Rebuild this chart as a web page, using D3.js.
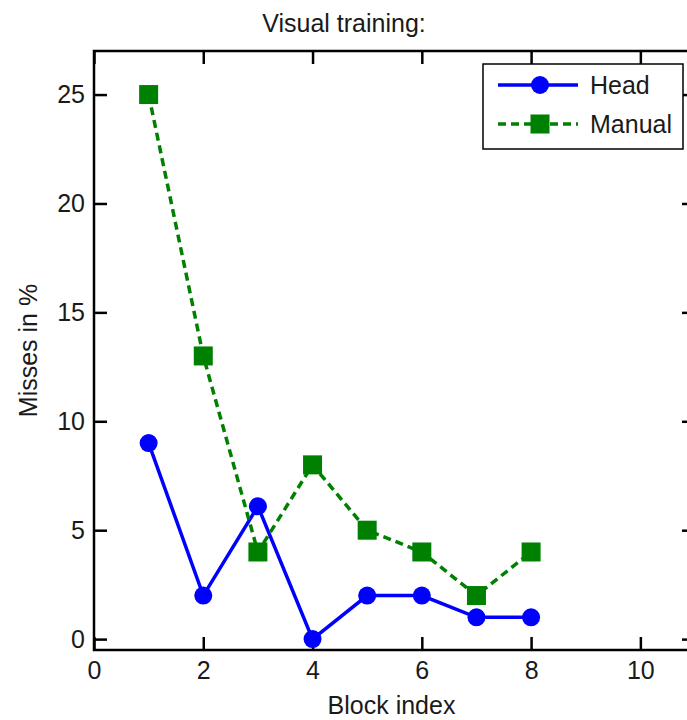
<!DOCTYPE html>
<html>
<head>
<meta charset="utf-8">
<script src="https://cdn.jsdelivr.net/npm/d3@7"></script>
<style>
  body { margin: 0; background: #fff; }
  svg { display: block; }
  text { font-family: "Liberation Sans", Arial, sans-serif; fill: #1a1a1a; }
</style>
</head>
<body>
<svg width="687" height="720"></svg>
<script>
const blocks = [1, 2, 3, 4, 5, 6, 7, 8];
const headMisses = [9, 2, 6.1, 0, 2, 2, 1, 1];
const manualMisses = [25, 13, 4, 8, 5, 4, 2, 4];
const xTicks = [0, 2, 4, 6, 8, 10];
const yTicks = [0, 5, 10, 15, 20, 25];

const svg = d3.select("svg");

const margin = { top: 51, right: -8, bottom: 70, left: 94 };
const width = +svg.attr("width");
const height = +svg.attr("height");

const xScale = d3.scaleLinear().domain([0, 11]).range([margin.left, width - margin.right]);
const yScale = d3.scaleLinear().domain([-0.5, 27]).range([height - margin.bottom, margin.top]);

const tickLen = 13;
const fontSize = 25;

// Axes: ticks point inward, mirrored on top/right
const xBottom = d3.axisBottom(xScale).tickValues(xTicks).tickSize(-tickLen).tickPadding(11);
const xTop = d3.axisTop(xScale).tickValues(xTicks).tickSize(-tickLen).tickFormat("");
const yLeft = d3.axisLeft(yScale).tickValues(yTicks).tickSize(-tickLen).tickPadding(9);
const yRight = d3.axisRight(yScale).tickValues(yTicks).tickSize(-tickLen).tickFormat("");

const styleAxis = (g) => {
  g.select(".domain").remove();
  g.selectAll(".tick line").attr("stroke", "#000").attr("stroke-width", 2.5);
  g.selectAll(".tick text")
    .style("font-size", fontSize + "px")
    .style("font-family", "'Liberation Sans', Arial, sans-serif")
    .attr("fill", "#1a1a1a");
};

svg.append("g").attr("transform", `translate(0, ${yScale(-0.5)})`).call(xBottom).call(styleAxis);
svg.append("g").attr("transform", `translate(0, ${yScale(27)})`).call(xTop).call(styleAxis);
svg.append("g").attr("transform", `translate(${xScale(0)}, 0)`).call(yLeft).call(styleAxis);
svg.append("g").attr("transform", `translate(${xScale(11)}, 0)`).call(yRight).call(styleAxis);

// box
svg.append("rect")
  .attr("x", xScale(0))
  .attr("y", yScale(27))
  .attr("width", xScale(11) - xScale(0))
  .attr("height", yScale(-0.5) - yScale(27))
  .attr("fill", "none")
  .attr("stroke", "#000")
  .attr("stroke-width", 2.5);

// Titles
svg.append("text")
  .attr("x", 344)
  .attr("y", 32)
  .attr("text-anchor", "middle")
  .style("font-size", "25px")
  .text("Visual training:");

svg.append("text")
  .attr("x", (xScale(0) + xScale(11)) / 2 - 3)
  .attr("y", 714)
  .attr("text-anchor", "middle")
  .style("font-size", "25px")
  .text("Block index");

svg.append("text")
  .attr("transform", `translate(37, ${(yScale(-0.5) + yScale(27)) / 2}) rotate(-90)`)
  .attr("text-anchor", "middle")
  .style("font-size", "25px")
  .text("Misses in %");

const line = d3.line()
  .x((d, i) => xScale(blocks[i]))
  .y((d) => yScale(d));

const blue = "#0000ff";
const green = "#008000";
const dash = "8,5";

// Head series
svg.append("path")
  .datum(headMisses)
  .attr("d", line)
  .attr("fill", "none")
  .attr("stroke", blue)
  .attr("stroke-width", 3.5);

svg.append("g")
  .selectAll("circle")
  .data(headMisses)
  .enter()
  .append("circle")
  .attr("cx", (d, i) => xScale(blocks[i]))
  .attr("cy", (d) => yScale(d))
  .attr("r", 9)
  .attr("fill", blue);

// Manual series
svg.append("path")
  .datum(manualMisses)
  .attr("d", line)
  .attr("fill", "none")
  .attr("stroke", green)
  .attr("stroke-width", 3.5)
  .attr("stroke-dasharray", dash);

const sq = 19;
svg.append("g")
  .selectAll("rect")
  .data(manualMisses)
  .enter()
  .append("rect")
  .attr("x", (d, i) => xScale(blocks[i]) - sq / 2)
  .attr("y", (d) => yScale(d) - sq / 2)
  .attr("width", sq)
  .attr("height", sq)
  .attr("fill", green);

// Legend
const legend = svg.append("g").attr("transform", "translate(483, 64)");

legend.append("rect")
  .attr("width", 200)
  .attr("height", 85)
  .attr("fill", "#fff")
  .attr("stroke", "#000")
  .attr("stroke-width", 1.5);

const legendItems = [
  { name: "Head", color: blue, dash: null, marker: "circle" },
  { name: "Manual", color: green, dash: dash, marker: "square" },
];

const item = legend.selectAll(".legends")
  .data(legendItems)
  .enter()
  .append("g")
  .attr("class", "legends")
  .attr("transform", (d, i) => `translate(0, ${21 + i * 39})`);

item.append("line")
  .attr("x1", 15)
  .attr("x2", 95)
  .attr("stroke", (d) => d.color)
  .attr("stroke-width", 3.5)
  .attr("stroke-dasharray", (d) => d.dash);

item.filter((d) => d.marker === "circle")
  .append("circle")
  .attr("cx", 57)
  .attr("r", 9)
  .attr("fill", (d) => d.color);

item.filter((d) => d.marker === "square")
  .append("rect")
  .attr("x", 57 - sq / 2)
  .attr("y", -sq / 2)
  .attr("width", sq)
  .attr("height", sq)
  .attr("fill", (d) => d.color);

item.append("text")
  .attr("x", 107)
  .attr("y", 9)
  .style("font-size", "25px")
  .text((d) => d.name);
</script>
</body>
</html>
